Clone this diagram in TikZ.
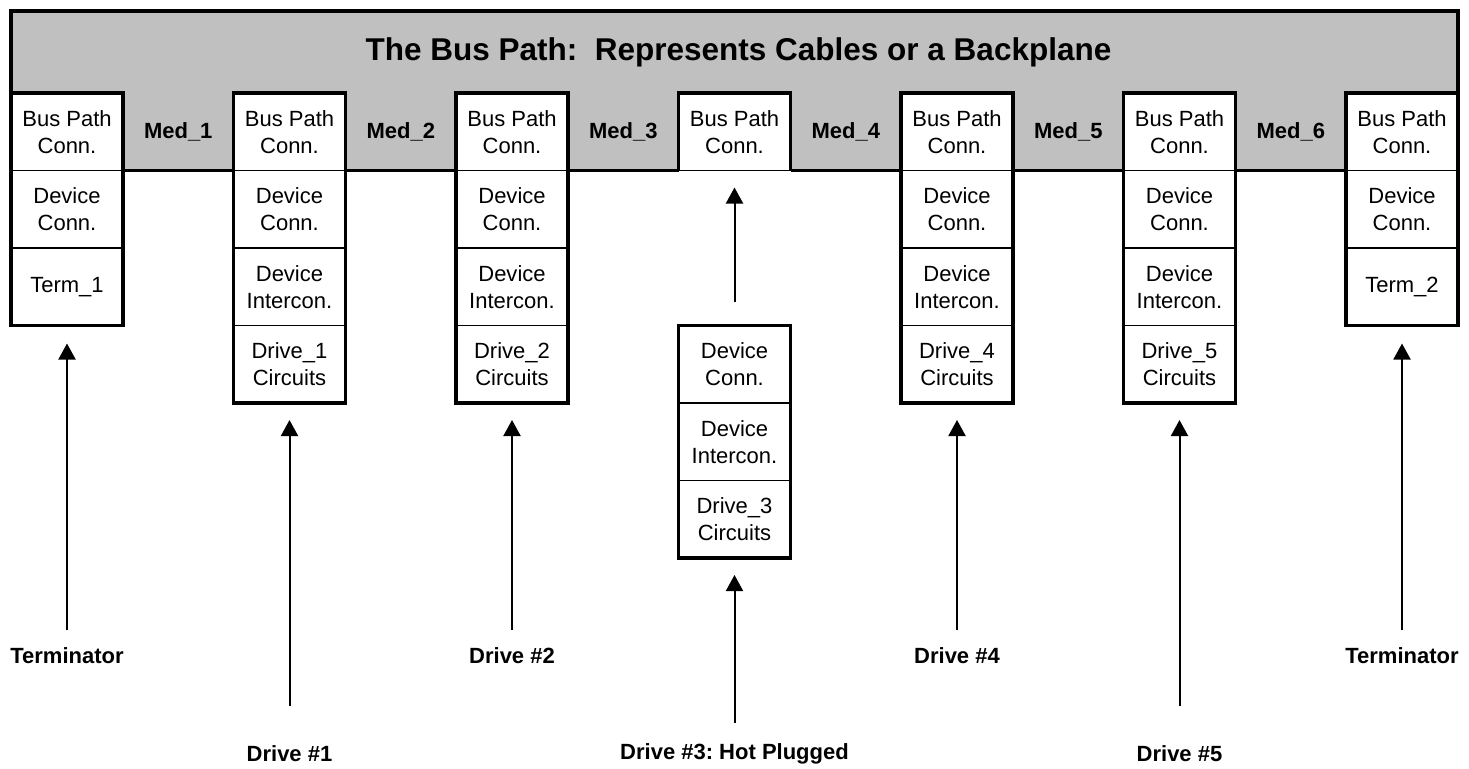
\documentclass[tikz,border=0pt]{standalone}
\usepackage{fontspec}
\setmainfont{Liberation Sans}
\usetikzlibrary{arrows.meta,calc}
\definecolor{busgray}{RGB}{192,192,192}
\frenchspacing
\begin{document}
\begin{tikzpicture}[x=1bp,y=-1bp,
  cell/.style={draw, line width=1.8bp, fill=white, minimum width=112bp, minimum height=77.5bp,
    inner sep=0pt, outer sep=0pt, align=center, font=\fontsize{22bp}{27bp}\selectfont},
  frame/.style={line width=3.6bp, line join=miter},
  lbl/.style={font=\fontsize{22bp}{27bp}\selectfont\bfseries, inner sep=0pt},
  arr/.style={line width=2bp, -{Triangle[width=17bp,length=16bp]}}]
\useasboundingbox (0,0) rectangle (1469,768);
% bus path band
\fill[busgray] (11,11) rectangle (1458,170.5);
\draw[frame] (11,93) -- (11,11) -- (1458,11) -- (1458,93);
\node[font=\fontsize{31.5bp}{36bp}\selectfont\bfseries, inner sep=0pt] (title) at (738.5,52) {The Bus Path:\ \ Represents Cables or a Backplane};
% column 1
\node[cell] (b1a) at (67,131.75) {Bus Path\\Conn.};
\node[cell] (b1b) at (67,209.25) {Device\\Conn.};
\node[cell] (b1c) at (67,286.75) {Term\_1};
% column 2
\node[cell] (b2a) at (289.5,131.75) {Bus Path\\Conn.};
\node[cell] (b2b) at (289.5,209.25) {Device\\Conn.};
\node[cell] (b2c) at (289.5,286.75) {Device\\Intercon.};
\node[cell] (b2d) at (289.5,364.25) {Drive\_1\\Circuits};
% column 3
\node[cell] (b3a) at (512,131.75) {Bus Path\\Conn.};
\node[cell] (b3b) at (512,209.25) {Device\\Conn.};
\node[cell] (b3c) at (512,286.75) {Device\\Intercon.};
\node[cell] (b3d) at (512,364.25) {Drive\_2\\Circuits};
% column 4
\node[cell] (b4a) at (734.5,131.75) {Bus Path\\Conn.};
\node[cell] (d3b) at (734.5,364.25) {Device\\Conn.};
\node[cell] (d3c) at (734.5,441.75) {Device\\Intercon.};
\node[cell] (d3d) at (734.5,519.25) {Drive\_3\\Circuits};
% column 5
\node[cell] (b5a) at (957,131.75) {Bus Path\\Conn.};
\node[cell] (b5b) at (957,209.25) {Device\\Conn.};
\node[cell] (b5c) at (957,286.75) {Device\\Intercon.};
\node[cell] (b5d) at (957,364.25) {Drive\_4\\Circuits};
% column 6
\node[cell] (b6a) at (1179.5,131.75) {Bus Path\\Conn.};
\node[cell] (b6b) at (1179.5,209.25) {Device\\Conn.};
\node[cell] (b6c) at (1179.5,286.75) {Device\\Intercon.};
\node[cell] (b6d) at (1179.5,364.25) {Drive\_5\\Circuits};
% column 7
\node[cell] (b7a) at (1402,131.75) {Bus Path\\Conn.};
\node[cell] (b7b) at (1402,209.25) {Device\\Conn.};
\node[cell] (b7c) at (1402,286.75) {Term\_2};
% thick frames
\draw[frame] (b1a.north west) rectangle (b1c.south east);
\draw[frame] (b2a.north west) rectangle (b2d.south east);
\draw[frame] (b3a.north west) rectangle (b3d.south east);
\draw[frame] (b4a.south west) -- (b4a.north west) -- (b4a.north east) -- (b4a.south east);
\draw[frame] (d3b.north west) rectangle (d3d.south east);
\draw[frame] (b5a.north west) rectangle (b5d.south east);
\draw[frame] (b6a.north west) rectangle (b6d.south east);
\draw[frame] (b7a.north west) rectangle (b7c.south east);
% bottom edge of the bus band between boxes
\draw[frame] (b1a.south east) -- (b2a.south west);
\draw[frame] (b2a.south east) -- (b3a.south west);
\draw[frame] (b3a.south east) -- (b4a.south west);
\draw[frame] (b4a.south east) -- (b5a.south west);
\draw[frame] (b5a.south east) -- (b6a.south west);
\draw[frame] (b6a.south east) -- (b7a.south west);
% medium labels
\node[lbl] (m1) at (178.25,131.75) {Med\_1};
\node[lbl] (m2) at (400.75,131.75) {Med\_2};
\node[lbl] (m3) at (623.25,131.75) {Med\_3};
\node[lbl] (m4) at (845.75,131.75) {Med\_4};
\node[lbl] (m5) at (1068.25,131.75) {Med\_5};
\node[lbl] (m6) at (1290.75,131.75) {Med\_6};
% device labels
\node[lbl] (L1) at (67,656) {Terminator};
\node[lbl] (L2) at (289.5,754) {Drive \#1};
\node[lbl] (L3) at (512,656) {Drive \#2};
\node[lbl] (L4) at (734.5,754) {Drive \#3: Hot Plugged};
\node[lbl] (L5) at (957,656) {Drive \#4};
\node[lbl] (L6) at (1179.5,754) {Drive \#5};
\node[lbl] (L7) at (1402,656) {Terminator};
% arrow tails
\coordinate (t1) at (67,630);
\coordinate (t2) at (289.5,706);
\coordinate (t3) at (512,630);
\coordinate (t4) at (734.5,723);
\coordinate (t5) at (957,630);
\coordinate (t6) at (1179.5,706);
\coordinate (t7) at (1402,630);
\coordinate (u4) at (734.5,302);
% arrows
\draw[arr] (t1) -- ($(b1c.south)+(0,18)$);
\draw[arr] (t2) -- ($(b2d.south)+(0,17)$);
\draw[arr] (t3) -- ($(b3d.south)+(0,17)$);
\draw[arr] (t4) -- ($(d3d.south)+(0,17)$);
\draw[arr] (t5) -- ($(b5d.south)+(0,17)$);
\draw[arr] (t6) -- ($(b6d.south)+(0,17)$);
\draw[arr] (t7) -- ($(b7c.south)+(0,18)$);
\draw[arr] (u4) -- ($(b4a.south)+(0,17)$);
\end{tikzpicture}
\end{document}
